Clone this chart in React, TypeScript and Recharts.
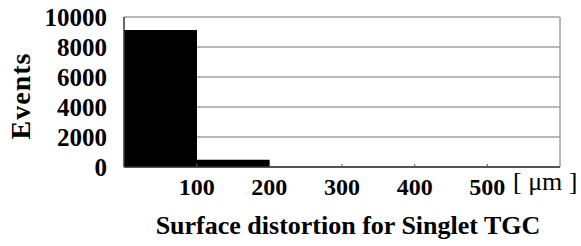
import React from 'react';
import { BarChart, Bar, XAxis, YAxis, CartesianGrid, Label } from 'recharts';

const binCenters = [50, 150, 250, 350, 450, 550];
const events = [9130, 480, 0, 0, 0, 0];
const xTicks = [100, 200, 300, 400, 500];
const yTicks = [0, 2000, 4000, 6000, 8000, 10000];
const xTitle = 'Surface distortion for Singlet TGC';
const yTitle = 'Events';
const unitText = '[ \u03bcm ]';

const data = binCenters.map((c, i) => ({ x: c, events: events[i] }));
const FONT = '"Liberation Serif", "DejaVu Serif", serif';

const tickStyle = { fill: '#000', fontSize: 24, fontWeight: 'bold', fontFamily: FONT };

export default function App() {
  return (
    <div style={{ position: 'absolute', left: 0, top: 0, background: '#fff' }}>
      <BarChart
        width={581}
        height={246}
        data={data}
        margin={{ top: 17, right: 21, bottom: 0, left: 0 }}
        barCategoryGap={0}
        barGap={0}
      >
        <CartesianGrid
          stroke="#a0a0a0"
          strokeWidth={1.5}
          verticalCoordinatesGenerator={(p: any) => [p.offset.left + p.offset.width]}
        />
        <XAxis
          type="number"
          dataKey="x"
          domain={[0, 600]}
          ticks={xTicks}
          interval={0}
          height={79}
          tickSize={-3}
          tickMargin={14}
          axisLine={{ stroke: '#333', strokeWidth: 1.5 }}
          tickLine={{ stroke: '#555' }}
          tick={tickStyle}
        >
          <Label
            content={({ viewBox }: any) => (
              <g>
                <text
                  x={viewBox.x + viewBox.width / 2 + 6}
                  y={viewBox.y + 67}
                  textAnchor="middle"
                  fontFamily={FONT}
                  fontWeight="bold"
                  fontSize={26}
                  fill="#000"
                >
                  {xTitle}
                </text>
                <text
                  x={viewBox.x + viewBox.width - 47}
                  y={viewBox.y + 23}
                  textAnchor="start"
                  fontFamily={FONT}
                  fontSize={26}
                  fill="#000"
                >
                  {unitText}
                </text>
              </g>
            )}
          />
        </XAxis>
        <YAxis
          domain={[0, 10000]}
          ticks={yTicks}
          interval={0}
          width={124}
          tickLine={false}
          tickMargin={11}
          axisLine={{ stroke: '#333', strokeWidth: 1.5 }}
          tick={{ ...tickStyle, fontSize: 25 }}
        >
          <Label
            content={({ viewBox }: any) => {
              const cx = viewBox.x + 20;
              const cy = viewBox.y + viewBox.height / 2 + 4;
              return (
                <text
                  x={cx}
                  y={cy}
                  transform={`rotate(-90, ${cx}, ${cy})`}
                  textAnchor="middle"
                  dominantBaseline="central"
                  fontFamily={FONT}
                  fontWeight="bold"
                  fontSize={28}
                  letterSpacing={1}
                  fill="#000"
                >
                  {yTitle}
                </text>
              );
            }}
          />
        </YAxis>
        <Bar dataKey="events" fill="#000" isAnimationActive={false} />
      </BarChart>
    </div>
  );
}
